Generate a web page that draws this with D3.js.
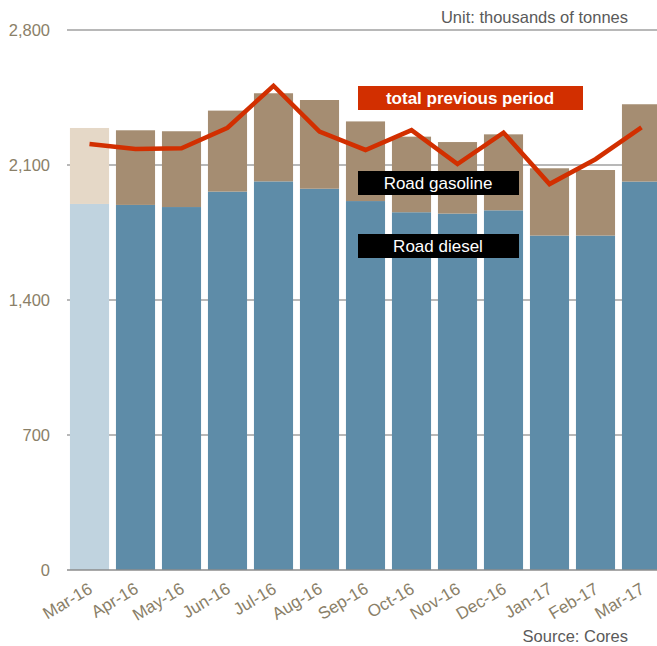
<!DOCTYPE html>
<html>
<head>
<meta charset="utf-8">
<script src="https://cdn.jsdelivr.net/npm/d3@7"></script>
<style>
  body { margin: 0; background: #fff; }
  svg { font-family: "Liberation Sans", Arial, sans-serif; }
</style>
</head>
<body>
<svg width="657" height="646"></svg>
<script>
// monthly data, thousands of tonnes
let months   = ["Mar-16","Apr-16","May-16","Jun-16","Jul-16","Aug-16","Sep-16","Oct-16","Nov-16","Dec-16","Jan-17","Feb-17","Mar-17"];
let diesel   = [1898, 1893, 1882, 1962, 2015, 1977, 1913, 1855, 1848, 1865, 1734, 1734, 2014];
let gasoline = [394, 387, 393, 420, 457, 460, 413, 392, 371, 394, 349, 340, 401];
let prevTotal = [2209, 2183, 2187, 2293, 2511, 2273, 2178, 2281, 2105, 2268, 2001, 2130, 2295];
let yTicks   = [0, 700, 1400, 2100, 2800];

let colDiesel = "#5e8ca8", colGas = "#a58d72";
let colDieselLight = "#c0d3df", colGasLight = "#e5d8c7";
let colLine = "#d22f00", colText = "#8a8068";

let svg = d3.select("svg");

let x = d3.scaleBand()
  .domain(months)
  .range([66.5, 664.5])
  .paddingInner(0.15)
  .paddingOuter(0.075);

let y = d3.scaleLinear()
  .domain([0, 2800])
  .range([570, 30]);

// gridlines
svg.append("g")
  .selectAll("line")
  .data(yTicks.filter(d => d > 0))
  .join("line")
    .attr("x1", 67).attr("x2", 657)
    .attr("y1", d => y(d)).attr("y2", d => y(d))
    .attr("stroke", "#a0a0a0")
    .attr("stroke-width", 1.5);

// y labels
svg.append("g")
  .selectAll("text")
  .data(yTicks)
  .join("text")
    .attr("x", 50)
    .attr("y", d => y(d) + 6)
    .attr("text-anchor", "end")
    .attr("fill", colText)
    .style("font-size", "16.5px")
    .text(d => d3.format(",")(d));

// bars
let bars = svg.append("g");
bars.selectAll(".diesel")
  .data(months)
  .join("rect")
    .attr("class", "diesel")
    .attr("x", d => x(d))
    .attr("width", x.bandwidth())
    .attr("y", (d, i) => y(diesel[i]))
    .attr("height", (d, i) => y(0) - y(diesel[i]))
    .attr("fill", (d, i) => i == 0 ? colDieselLight : colDiesel);

bars.selectAll(".gas")
  .data(months)
  .join("rect")
    .attr("class", "gas")
    .attr("x", d => x(d))
    .attr("width", x.bandwidth())
    .attr("y", (d, i) => y(diesel[i] + gasoline[i]))
    .attr("height", (d, i) => y(diesel[i]) - y(diesel[i] + gasoline[i]))
    .attr("fill", (d, i) => i == 0 ? colGasLight : colGas);

// zero axis
svg.append("line")
  .attr("x1", 67).attr("x2", 657)
  .attr("y1", y(0)).attr("y2", y(0))
  .attr("stroke", "#8c8c8c")
  .attr("stroke-width", 1.5);

// previous period line
let line = d3.line()
  .x((d, i) => x(months[i]) + x.bandwidth() / 2)
  .y(d => y(d));

svg.append("path")
  .datum(prevTotal)
  .attr("d", line)
  .attr("fill", "none")
  .attr("stroke", colLine)
  .attr("stroke-width", 4.5)
  .attr("stroke-linejoin", "miter");

// x labels
svg.append("g")
  .selectAll("text")
  .data(months)
  .join("text")
    .attr("transform", d => `translate(${x(d) + x.bandwidth() / 2 + 4},${y(0) + 22}) rotate(-31)`)
    .attr("text-anchor", "end")
    .attr("fill", colText)
    .style("font-size", "17px")
    .text(d => d);

// legend boxes
let legend = [
  {label: "total previous period", fill: colLine, y: 86, bold: true},
  {label: "Road gasoline", fill: "#000", y: 171, bold: false},
  {label: "Road diesel", fill: "#000", y: 234, bold: false}
];
let lg = svg.append("g")
  .selectAll("g")
  .data(legend)
  .join("g")
    .attr("transform", d => `translate(358,${d.y})`);
lg.append("rect")
  .attr("width", (d, i) => i == 0 ? 225 : 161)
  .attr("height", 24)
  .attr("fill", d => d.fill);
lg.append("text")
  .attr("x", (d, i) => i == 0 ? 112 : 80)
  .attr("y", 18)
  .attr("text-anchor", "middle")
  .attr("fill", "#fff")
  .style("font-size", "17px")
  .style("font-weight", d => d.bold ? "bold" : "normal")
  .text(d => d.label);

// notes
svg.append("text")
  .attr("x", 628).attr("y", 23)
  .attr("text-anchor", "end")
  .attr("fill", "#5a5a5a")
  .style("font-size", "16.5px")
  .text("Unit: thousands of tonnes");

svg.append("text")
  .attr("x", 628).attr("y", 642)
  .attr("text-anchor", "end")
  .attr("fill", "#5a5a5a")
  .style("font-size", "16.5px")
  .text("Source: Cores");
</script>
</body>
</html>
